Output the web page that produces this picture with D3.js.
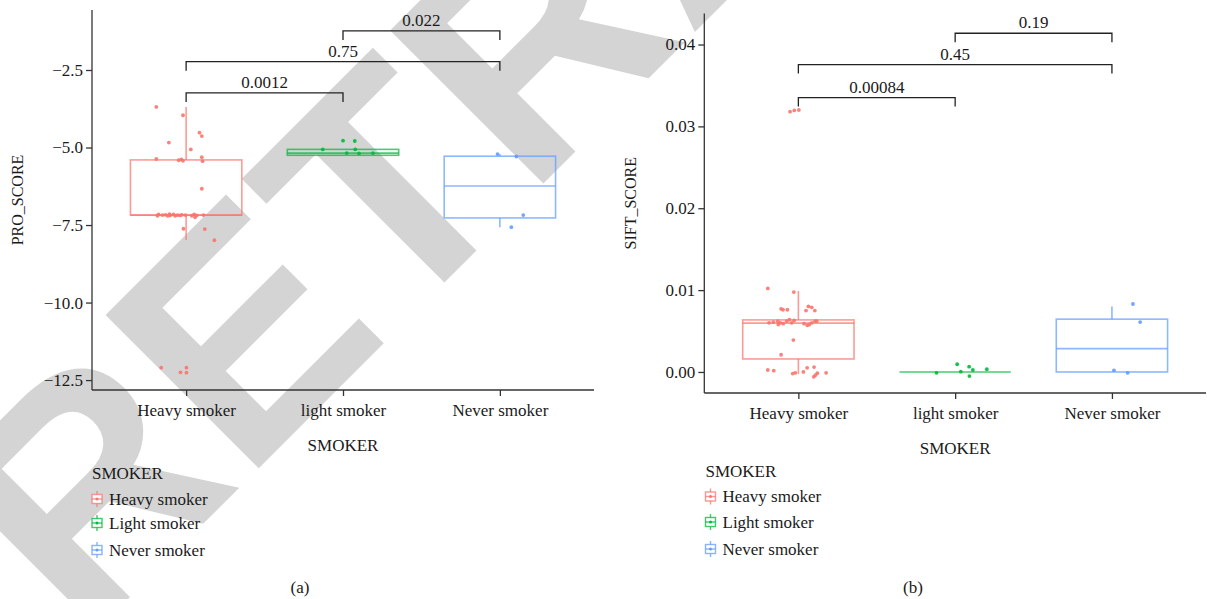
<!DOCTYPE html>
<html>
<head>
<meta charset="utf-8">
<script src="https://cdn.jsdelivr.net/npm/d3@7"></script>
<style>
  html, body { margin: 0; padding: 0; background: #fff; }
  svg { display: block; }
  text { font-family: "Liberation Serif", "Times New Roman", serif; fill: #1a1a1a; }
</style>
</head>
<body>
<svg id="chart" width="1207" height="599"></svg>
<script>
// ---- data -------------------------------------------------------------
const categories = ["Heavy smoker", "light smoker", "Never smoker"];
const legendLabels = ["Heavy smoker", "Light smoker", "Never smoker"];
const groupColors = ["#F8766D", "#00BA38", "#619CFF"];

// PRO_SCORE box statistics per group
const proLower  = [-7.98, -5.25, -7.57];
const proQ1     = [-7.18, -5.25, -7.27];
const proMedian = [-7.18, -5.18, -6.24];
const proQ3     = [-5.40, -5.06, -5.28];
const proUpper  = [-3.69, -5.06, -5.21];

// PRO_SCORE observations: [jitter (fraction of group spacing), value]
const proHeavy = [
  [-0.19, -3.69], [-0.02, -3.96], [0.085, -4.52], [0.10, -4.63], [-0.11, -4.84],
  [0.03, -5.06], [-0.19, -5.37], [-0.047, -5.41], [-0.03, -5.38], [-0.02, -5.43],
  [0.10, -5.31], [0.105, -5.44], [0.10, -6.33],
  [-0.183, -7.20], [-0.176, -7.16], [-0.151, -7.18], [-0.132, -7.17], [-0.117, -7.20],
  [-0.106, -7.15], [-0.102, -7.19], [-0.081, -7.16], [-0.070, -7.20], [-0.055, -7.18],
  [-0.038, -7.19], [-0.027, -7.17], [-0.004, -7.18], [0.036, -7.20], [0.051, -7.16],
  [0.057, -7.25], [0.068, -7.19], [0.110, -7.18],
  [-0.017, -7.62], [0.119, -7.63], [0.18, -7.99],
  [-0.159, -12.10], [-0.036, -12.25], [0.002, -12.10], [0.002, -12.26]
];
const proLight = [
  [0.0, -4.78], [0.075, -4.79], [-0.129, -5.06], [0.078, -5.06],
  [0.024, -5.18], [0.102, -5.19], [0.191, -5.18]
];
const proNever = [[-0.015, -5.21], [0.105, -5.29], [0.149, -7.18], [0.073, -7.57]];

// SIFT_SCORE box statistics per group
const siftLower  = [-0.00024, 0.0, 0.0];
const siftQ1     = [0.00159, 0.0, 0.0];
const siftMedian = [0.00596, 0.0, 0.00285];
const siftQ3     = [0.00636, 0.0, 0.00645];
const siftUpper  = [0.0099, 0.0, 0.0080];

// SIFT_SCORE observations: [jitter, value]
const siftHeavy = [
  [-0.195, 0.0102], [-0.029, 0.00976], [-0.11, 0.0077], [-0.098, 0.0076], [-0.07, 0.0076],
  [0.064, 0.0080], [0.085, 0.0079], [0.049, 0.0075], [0.105, 0.0075],
  [-0.187, 0.0060], [-0.160, 0.0061], [-0.131, 0.0062], [-0.128, 0.0058], [-0.115, 0.0060],
  [-0.096, 0.0059], [-0.074, 0.0062], [-0.057, 0.0064], [-0.042, 0.0060], [-0.027, 0.0063],
  [0.036, 0.0059], [0.057, 0.0057], [0.070, 0.0058], [0.086, 0.0060], [0.107, 0.0062],
  [0.117, 0.0062],
  [-0.032, 0.0039], [-0.11, 0.0021],
  [-0.195, 0.00024], [-0.157, 0.00016], [-0.036, -0.0002], [-0.019, -0.0001], [0.032, 0.0],
  [0.056, 0.0005], [0.10, 0.0006], [0.098, -0.0006], [0.108, -0.0004], [0.121, -0.00016],
  [0.177, -0.0001],
  [-0.053, 0.0318], [-0.026, 0.03195], [0.003, 0.0320]
];
const siftLight = [
  [-0.119, -0.0001], [0.013, 0.00094], [0.036, 0.00004], [0.089, 0.00065],
  [0.113, 0.00024], [0.091, -0.0005], [0.202, 0.00033]
];
const siftNever = [[0.134, 0.0083], [0.18, 0.0061], [0.013, 0.0002], [0.10, -0.0001]];

// pairwise comparison p-values: [from group, to group, bracket height, label]
const proPairs = [[0, 1, -3.24, "0.0012"], [0, 2, -2.23, "0.75"], [1, 2, -1.24, "0.022"]];
const siftPairs = [[0, 1, 0.03352, "0.00084"], [0, 2, 0.03755, "0.45"], [1, 2, 0.04138, "0.19"]];

const proTicks = [-2.5, -5.0, -7.5, -10.0, -12.5];
const siftTicks = [0.00, 0.01, 0.02, 0.03, 0.04];

// ---- drawing ----------------------------------------------------------
const svg = d3.select("#chart");
const fontSize = 17;
const axisColor = "#333";

// retraction stamp behind both panels
svg.append("text")
  .attr("transform", "translate(83,644) rotate(-45)")
  .style("font-family", "'Liberation Sans', Arial, sans-serif")
  .style("font-weight", "bold")
  .style("font-size", "315px")
  .style("fill", "#d4d4d4")
  .text("RETRACTED");

function drawPanel(cfg) {
  const g = svg.append("g");
  const x = d3.scalePoint().domain(d3.range(categories.length))
    .range([cfg.left, cfg.right]).padding(0.6);
  const step = x.step();
  const y = d3.scaleLinear().domain(cfg.domain).range([cfg.top, cfg.bottom]);
  const boxW = step * 0.71;

  // boxes
  categories.forEach((c, i) => {
    const cx = x(i), col = groupColors[i];
    const bg = g.append("g").attr("stroke", col).attr("stroke-opacity", 0.72)
      .attr("stroke-width", 1.6).attr("fill", "none");
    bg.append("line").attr("x1", cx).attr("x2", cx)
      .attr("y1", y(cfg.q3[i])).attr("y2", y(cfg.upper[i]));
    bg.append("line").attr("x1", cx).attr("x2", cx)
      .attr("y1", y(cfg.q1[i])).attr("y2", y(cfg.lower[i]));
    bg.append("rect").attr("x", cx - boxW / 2).attr("width", boxW)
      .attr("y", y(cfg.q3[i])).attr("height", Math.max(0, y(cfg.q1[i]) - y(cfg.q3[i])));
    bg.append("line").attr("x1", cx - boxW / 2).attr("x2", cx + boxW / 2)
      .attr("y1", y(cfg.median[i])).attr("y2", y(cfg.median[i]));
  });

  // jittered points
  cfg.points.forEach((pts, i) => {
    g.append("g").selectAll("circle").data(pts).join("circle")
      .attr("cx", d => x(i) + d[0] * step)
      .attr("cy", d => y(d[1]))
      .attr("r", 1.9)
      .attr("fill", groupColors[i])
      .attr("fill-opacity", 0.9);
  });

  // y axis
  const ya = g.append("g").attr("transform", `translate(${cfg.left},0)`)
    .call(d3.axisLeft(y).tickValues(cfg.ticks).tickFormat(d3.format(cfg.fmt)).tickSizeOuter(0).tickSize(6));
  ya.select(".domain").attr("stroke", axisColor).attr("stroke-width", 1.3)
    .attr("d", `M0,${cfg.top}V${cfg.bottom}`);
  ya.selectAll(".tick line").attr("stroke", axisColor).attr("stroke-width", 1.3);
  ya.selectAll(".tick text").attr("x", -9).style("font-size", fontSize + "px")
    .style("font-family", "'Liberation Serif', serif").attr("fill", "#1a1a1a");

  // x axis
  const xa = g.append("g").attr("transform", `translate(0,${cfg.bottom})`)
    .call(d3.axisBottom(x).tickFormat(i => categories[i]).tickSizeOuter(0).tickSize(6));
  xa.select(".domain").attr("stroke", axisColor).attr("stroke-width", 1.3)
    .attr("d", `M${cfg.left},0H${cfg.right}`);
  xa.selectAll(".tick line").attr("stroke", axisColor).attr("stroke-width", 1.3);
  xa.selectAll(".tick text").attr("y", 14).style("font-size", fontSize + "px")
    .style("font-family", "'Liberation Serif', serif").attr("fill", "#1a1a1a");

  // axis titles
  g.append("text").attr("x", (cfg.left + cfg.right) / 2).attr("y", cfg.bottom + 61)
    .attr("text-anchor", "middle").style("font-size", fontSize + "px").text("SMOKER");
  g.append("text")
    .attr("transform", `translate(${cfg.yTitleX},${(cfg.top + cfg.bottom) / 2}) rotate(-90)`)
    .attr("text-anchor", "middle").style("font-size", "16px").text(cfg.yTitle);

  // significance brackets
  cfg.pairs.forEach(p => {
    const x1 = x(p[0]), x2 = x(p[1]), yy = y(p[2]);
    g.append("path").attr("d", `M${x1},${yy + 9}V${yy}H${x2}V${yy + 9}`)
      .attr("fill", "none").attr("stroke", "#222").attr("stroke-width", 1.3);
    g.append("text").attr("x", (x1 + x2) / 2).attr("y", yy - 5)
      .attr("text-anchor", "middle").style("font-size", fontSize + "px").text(p[3]);
  });

  // legend
  const lg = g.append("g");
  lg.append("text").attr("x", cfg.legX).attr("y", cfg.legY).attr("dy", "0.35em")
    .style("font-size", fontSize + "px").text("SMOKER");
  legendLabels.forEach((lab, i) => {
    const cy = cfg.legY + cfg.legRows[i];
    const cx = cfg.legX + 5;
    const col = groupColors[i];
    const key = lg.append("g").attr("stroke", col).attr("stroke-opacity", 0.75)
      .attr("stroke-width", 1.4).attr("fill", "none");
    key.append("line").attr("x1", cx).attr("x2", cx).attr("y1", cy - 8).attr("y2", cy + 8);
    key.append("rect").attr("x", cx - 5).attr("y", cy - 4.5).attr("width", 10).attr("height", 9)
      .attr("fill", "#fff");
    key.append("line").attr("x1", cx - 5).attr("x2", cx + 5).attr("y1", cy).attr("y2", cy);
    lg.append("circle").attr("cx", cx).attr("cy", cy).attr("r", 1.5).attr("fill", col);
    lg.append("text").attr("x", cfg.legX + 17).attr("y", cy).attr("dy", "0.35em")
      .style("font-size", fontSize + "px").text(lab);
  });

  // panel tag
  g.append("text").attr("x", cfg.tagX).attr("y", 587).attr("dy", "0.35em")
    .attr("text-anchor", "middle").style("font-size", fontSize + "px").text(cfg.tag);
}

drawPanel({
  left: 92, right: 594, top: 10, bottom: 390,
  domain: [-0.565, -12.82],
  lower: proLower, q1: proQ1, median: proMedian, q3: proQ3, upper: proUpper,
  points: [proHeavy, proLight, proNever],
  ticks: proTicks, fmt: ".1f",
  pairs: proPairs, yTitle: "PRO_SCORE", yTitleX: 23,
  legX: 92, legY: 473, legRows: [26, 50, 77],
  tagX: 300, tag: "(a)"
});

drawPanel({
  left: 704.3, right: 1206, top: 13.5, bottom: 393,
  domain: [0.04379, -0.00257],
  lower: siftLower, q1: siftQ1, median: siftMedian, q3: siftQ3, upper: siftUpper,
  points: [siftHeavy, siftLight, siftNever],
  ticks: siftTicks, fmt: ".2f",
  pairs: siftPairs, yTitle: "SIFT_SCORE", yTitleX: 636,
  legX: 705.5, legY: 471, legRows: [25.5, 51, 78],
  tagX: 913, tag: "(b)"
});
</script>
</body>
</html>
